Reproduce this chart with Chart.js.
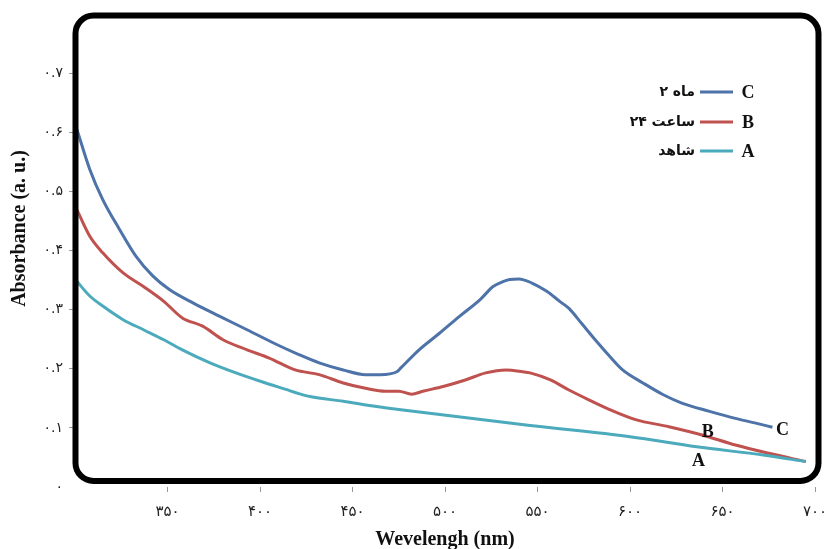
<!DOCTYPE html>
<html>
<head>
<meta charset="utf-8">
<script src="https://cdn.jsdelivr.net/npm/chart.js@4.4.1/dist/chart.umd.min.js"></script>
<style>
  html, body { margin: 0; padding: 0; background: #fff; }
  #wrap { width: 827px; height: 549px; }
</style>
</head>
<body>
<div id="wrap"><canvas id="c" width="827" height="549"></canvas></div>
<script>
// Absorbance spectra (wavelength in nm, absorbance in a.u.)
const waveC = [301,308,315,324,333,342,351,364,378,393,409,421,432,445,457,465,474,476,486,497,508,519,526,531,535,540,547,555,562,567,574,582,589,596,607,618,628,643,657,668,677];
const absC  = [0.605,0.537,0.486,0.436,0.390,0.357,0.334,0.311,0.289,0.266,0.241,0.224,0.210,0.198,0.190,0.190,0.195,0.201,0.232,0.260,0.289,0.317,0.339,0.347,0.351,0.352,0.345,0.331,0.314,0.302,0.276,0.246,0.221,0.198,0.176,0.156,0.142,0.128,0.116,0.108,0.101];

const waveB = [301,308,315,326,337,348,358,369,380,393,405,419,432,445,457,468,475,482,488,499,511,522,533,542,546,557,567,578,589,603,621,639,657,675,695];
const absB  = [0.469,0.424,0.396,0.362,0.339,0.314,0.286,0.272,0.249,0.232,0.218,0.198,0.190,0.176,0.167,0.162,0.162,0.157,0.162,0.170,0.181,0.193,0.198,0.195,0.193,0.181,0.164,0.147,0.131,0.114,0.102,0.088,0.071,0.057,0.043];

const waveA = [301,308,315,326,337,348,358,373,387,401,414,421,427,445,463,475,546,600,636,672,695];
const absA  = [0.348,0.323,0.306,0.283,0.266,0.249,0.232,0.210,0.193,0.178,0.165,0.158,0.153,0.145,0.136,0.131,0.104,0.085,0.068,0.054,0.043];

// Series letters and their Persian legend names (top to bottom: C, B, A)
const seriesTags  = ['C', 'B', 'A'];
const seriesNames = ['۲ ماه', '۲۴ ساعت', 'شاهد'];
const seriesColors = ['#4d73a8', '#bf514e', '#4baabb'];

// Axis ticks
const xTicks = [350, 400, 450, 500, 550, 600, 650, 700];
const yTicks = [0, 0.1, 0.2, 0.3, 0.4, 0.5, 0.6, 0.7];

// Wavelength at which each curve's letter is written
const tagWave = { C: 677, B: 642, A: 636 };

const faDigits = '۰۱۲۳۴۵۶۷۸۹';
const toFa = s => String(s).replace(/[0-9]/g, d => faDigits[+d]);
const pts = (xs, ys) => xs.map((v, i) => ({ x: v, y: ys[i] }));
const lerp = (xs, ys, v) => {
  for (let i = 1; i < xs.length; i++) {
    if (v <= xs[i]) {
      const t = (v - xs[i - 1]) / (xs[i] - xs[i - 1]);
      return ys[i - 1] + t * (ys[i] - ys[i - 1]);
    }
  }
  return ys[ys.length - 1];
};
const seriesData = { C: [waveC, absC], B: [waveB, absB], A: [waveA, absA] };

const serif = '"Liberation Serif", "Times New Roman", serif';
const sans = '"DejaVu Sans", sans-serif';

function roundRectPath(ctx, l, t, r, b, rad) {
  ctx.beginPath();
  ctx.moveTo(l + rad, t);
  ctx.lineTo(r - rad, t);
  ctx.arcTo(r, t, r, t + rad, rad);
  ctx.lineTo(r, b - rad);
  ctx.arcTo(r, b, r - rad, b, rad);
  ctx.lineTo(l + rad, b);
  ctx.arcTo(l, b, l, b - rad, rad);
  ctx.lineTo(l, t + rad);
  ctx.arcTo(l, t, l + rad, t, rad);
  ctx.closePath();
}

// Writes a legend name right-aligned at xr, keeping a leading numeral on the left of the word
function drawName(ctx, name, xr, yy) {
  const parts = name.split(' ');
  ctx.textAlign = 'right';
  if (parts.length > 1) {
    const num = parts[0];
    const word = parts.slice(1).join(' ');
    ctx.fillText(word, xr, yy);
    const gap = ctx.measureText(word).width + ctx.measureText(' ').width;
    ctx.fillText(num, xr - gap, yy);
  } else {
    ctx.fillText(name, xr, yy);
  }
}

// Curve letters, legend, rounded frame and the vertical axis title
const decor = {
  id: 'decor',
  afterDatasetsDraw(chart) {
    const { ctx, chartArea: a, scales: { x, y } } = chart;
    ctx.save();

    // letters next to the curves
    ctx.font = 'bold 18px ' + serif;
    ctx.fillStyle = '#111';
    ctx.textBaseline = 'middle';
    ctx.textAlign = 'center';
    const offs = { C: [10, 3], B: [0, -4], A: [2, 15] };
    seriesTags.forEach(tag => {
      const [xs, ys] = seriesData[tag];
      const w = tagWave[tag];
      const px = x.getPixelForValue(w) + offs[tag][0];
      const py = y.getPixelForValue(lerp(xs, ys, w)) + offs[tag][1];
      ctx.fillText(tag, px, py);
    });

    // legend block
    const rows = [92, 122, 151];
    seriesTags.forEach((tag, i) => {
      const ry = rows[i];
      ctx.strokeStyle = seriesColors[i];
      ctx.lineWidth = 3;
      ctx.beginPath();
      ctx.moveTo(700, ry);
      ctx.lineTo(733, ry);
      ctx.stroke();
      ctx.fillStyle = '#111';
      ctx.textAlign = 'center';
      ctx.font = 'bold 18px ' + serif;
      ctx.fillText(tag, 748, ry + 1);
      ctx.font = 'bold 14px ' + sans;
      drawName(ctx, seriesNames[i], 695, ry);
    });

    // rounded frame
    ctx.strokeStyle = '#000';
    ctx.lineWidth = 6;
    roundRectPath(ctx, a.left + 0.5, a.top + 1.5, a.right + 3.5, a.bottom - 6, 18);
    ctx.stroke();

    // vertical axis title
    ctx.translate(20, (a.top + a.bottom) / 2 - 22);
    ctx.rotate(-Math.PI / 2);
    ctx.textAlign = 'center';
    ctx.textBaseline = 'middle';
    ctx.font = 'bold 20px ' + serif;
    ctx.fillStyle = '#111';
    ctx.fillText('Absorbance (a. u.)', 0, 0);

    ctx.restore();
  }
};

const mkSet = (tag, i) => ({
  label: tag,
  data: pts(seriesData[tag][0], seriesData[tag][1]),
  borderColor: seriesColors[i],
  borderWidth: 3,
  pointRadius: 0,
  cubicInterpolationMode: 'monotone',
  fill: false
});

new Chart(document.getElementById('c'), {
  type: 'line',
  data: { datasets: [mkSet('A', 2), mkSet('B', 1), mkSet('C', 0)] },
  options: {
    responsive: false,
    devicePixelRatio: 1,
    animation: false,
    layout: { autoPadding: false, padding: { top: 14, right: 12, left: 0, bottom: 0 } },
    plugins: { legend: { display: false }, tooltip: { enabled: false } },
    scales: {
      x: {
        type: 'linear',
        min: 300,
        max: 700,
        afterFit: s => { s.height = 62; s.paddingLeft = 0; s.paddingRight = 0; },
        afterBuildTicks: s => { s.ticks = [300].concat(xTicks).map(v => ({ value: v })); },
        ticks: {
          padding: 11,
          color: '#222',
          font: { family: sans, size: 15 },
          callback: v => (xTicks.includes(v) ? toFa(v) : null)
        },
        grid: { drawOnChartArea: false, drawTicks: true, tickLength: 5, color: '#999' },
        border: { display: false },
        title: {
          display: true,
          text: 'Wevelengh (nm)',
          color: '#111',
          font: { family: serif, size: 20, weight: 'bold' },
          padding: { top: 2, bottom: -3 }
        }
      },
      y: {
        min: 0,
        max: 0.8,
        afterFit: s => { s.width = 75; s.paddingTop = 0; s.paddingBottom = 0; },
        afterBuildTicks: s => { s.ticks = yTicks.concat([0.8]).map(v => ({ value: v })); },
        ticks: {
          padding: 6,
          color: '#222',
          font: { family: sans, size: 14 },
          callback: v => {
            if (v > 0.75) return null;
            return v === 0 ? toFa('0') : toFa(v.toFixed(1));
          }
        },
        grid: {
          drawOnChartArea: false,
          drawTicks: true,
          tickLength: 6,
          color: c => (c.tick && c.tick.value === 0 ? 'rgba(0,0,0,0)' : '#999')
        },
        border: { display: false }
      }
    }
  },
  plugins: [decor]
});
</script>
</body>
</html>
